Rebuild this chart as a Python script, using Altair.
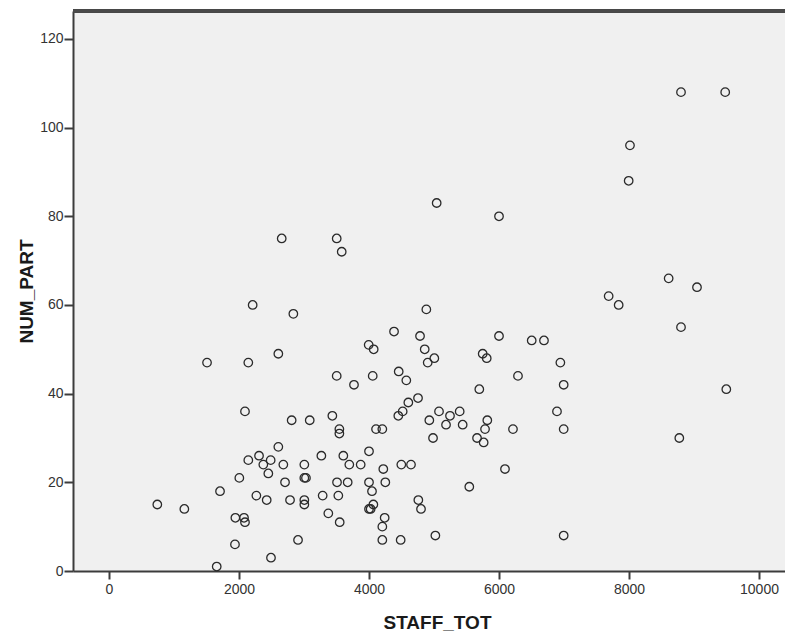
import altair as alt
import pandas as pd

staff_tot = [
    8800, 9480, 8015, 7995, 2657, 3503, 3580, 5041, 6000, 2210,
    2836, 8610, 9046, 7687, 7841, 4882, 1508, 2143, 2605, 2092,
    743, 1159, 1708, 2005, 1944, 2077, 2092, 1938, 1657, 2492,
    2143, 2308, 2374, 2487, 2451, 2605, 2682, 2708, 2267, 2426,
    2785, 2810, 3088, 3005, 3005, 3030, 3005, 3005, 2908, 3267,
    3287, 3374, 3436, 3544, 3544, 3503, 3769, 3605, 3697, 3872,
    3508, 3672, 3528, 3549, 3995, 4072, 4057, 4000, 4000, 4046,
    4067, 4000, 4025, 4108, 4205, 4220, 4251, 4241, 4205, 4205,
    4385, 4457, 4574, 4785, 4857, 4903, 5005, 6000, 6503, 6692,
    5749, 5811, 6944, 6292, 5697, 6995, 9497, 4754, 4605, 4518,
    4451, 5077, 5246, 5395, 4928, 5185, 5441, 5820, 5785, 6215,
    6995, 6892, 5662, 5764, 4985, 8774, 4497, 4646, 6092, 5543,
    4759, 4800, 4487, 5021, 6995, 8800,
]
num_part = [
    108, 108, 96, 88, 75, 75, 72, 83, 80, 60,
    58, 66, 64, 62, 60, 59, 47, 47, 49, 36,
    15, 14, 18, 21, 12, 12, 11, 6, 1, 3,
    25, 26, 24, 25, 22, 28, 24, 20, 17, 16,
    16, 34, 34, 24, 21, 21, 16, 15, 7, 26,
    17, 13, 35, 32, 31, 44, 42, 26, 24, 24,
    20, 20, 17, 11, 51, 50, 44, 27, 20, 18,
    15, 14, 14, 32, 32, 23, 20, 12, 10, 7,
    54, 45, 43, 53, 50, 47, 48, 53, 52, 52,
    49, 48, 47, 44, 41, 42, 41, 39, 38, 36,
    35, 36, 35, 36, 34, 33, 33, 34, 32, 32,
    32, 36, 30, 29, 30, 30, 24, 24, 23, 19,
    16, 14, 7, 8, 8, 55,
]

x_ticks = [0, 2000, 4000, 6000, 8000, 10000]
y_ticks = [0, 20, 40, 60, 80, 100, 120]

df = pd.DataFrame({"STAFF_TOT": staff_tot, "NUM_PART": num_part})

FONT = "Liberation Sans"
W, H = 712, 560

points = alt.Chart(df).mark_point(
    shape="circle", filled=False, size=72, stroke="#2a2a2a", strokeWidth=1.3, opacity=1
).encode(
    x=alt.X(
        "STAFF_TOT:Q",
        scale=alt.Scale(domain=[-554, 10400], nice=False, zero=False),
        axis=alt.Axis(
            values=x_ticks, format="d", grid=False, domainColor="#3c3c3c", domainWidth=2,
            tickColor="#3c3c3c", tickWidth=2, tickSize=8, labelPadding=3,
            labelFont=FONT, labelFontSize=14, labelColor="#333333",
            title="STAFF_TOT", titleFont=FONT, titleFontSize=19, titleFontWeight="bold",
            titleColor="#1a1a1a", titleX=364, titleY=57, titleAlign="center",
            titleBaseline="alphabetic", titleAnchor="start",
        ),
    ),
    y=alt.Y(
        "NUM_PART:Q",
        scale=alt.Scale(domain=[0, 126.3], nice=False, zero=False),
        axis=alt.Axis(
            values=y_ticks, format="d", grid=False, domainColor="#3c3c3c", domainWidth=2,
            tickColor="#3c3c3c", tickWidth=2, tickSize=9, labelPadding=1,
            labelFont=FONT, labelFontSize=14, labelColor="#333333",
            title="NUM_PART", titleFont=FONT, titleFontSize=19, titleFontWeight="bold",
            titleColor="#1a1a1a", titleX=-41, titleY=280, titleAngle=270,
            titleAlign="center", titleBaseline="alphabetic", titleAnchor="start",
        ),
    ),
)

top_border = alt.Chart(df).mark_rule(color="#4a4a4a", strokeWidth=2.5, strokeCap="butt").encode(
    x=alt.value(0), x2=alt.value(W), y=alt.value(0)
)

chart = alt.layer(points, top_border).properties(
    width=W, height=H,
    autosize=alt.AutoSizeParams(type="none"),
    padding={"left": 73, "top": 11, "right": 0, "bottom": 62},
    background="white",
).configure_view(fill="#f0f0f0", strokeWidth=0)

chart.save("out.html", embed_options={"renderer": "svg", "actions": False})
